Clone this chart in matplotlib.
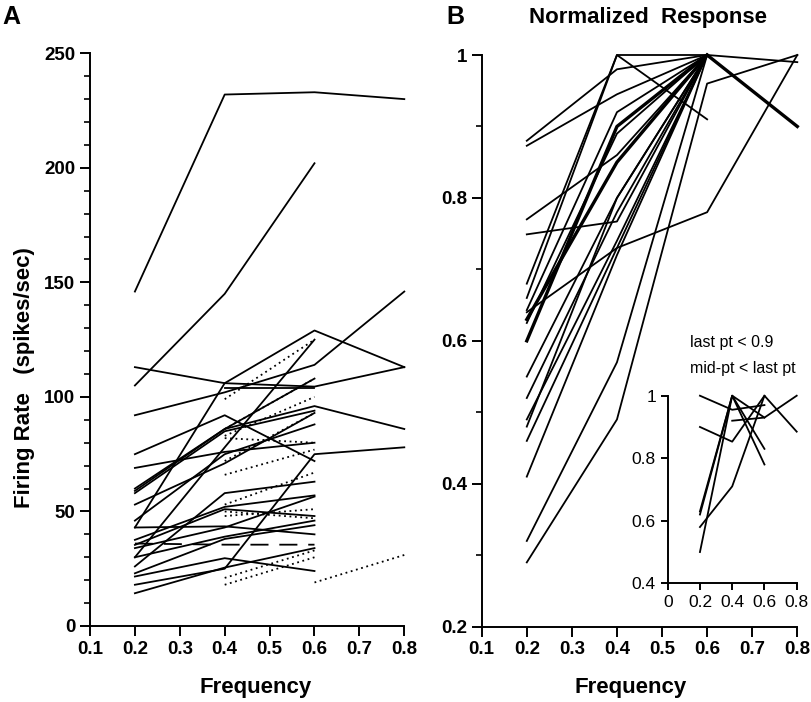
import numpy as np
import matplotlib
matplotlib.use("Agg")
import matplotlib.pyplot as plt
from matplotlib.ticker import MultipleLocator

plt.rcParams["font.family"] = ["Liberation Sans", "DejaVu Sans"]

nan = np.nan
freq = [0.2, 0.4, 0.6, 0.8]

# panel A: firing rate (spikes/sec) at each frequency
rate_solid = [
    [146, 232, 233, 230],
    [105, 145, 202, nan],
    [113, 106, 104.5, 113],
    [43, 106, 129, 113],
    [92, 102, 114, 146],
    [nan, 104, 104, nan],
    [75, 92, 72, nan],
    [69, 76, 80, nan],
    [60, 86, 96, 86],
    [59, 86, 108, nan],
    [58, 85, 94, nan],
    [53, 71, 93, nan],
    [46, 75, 88, nan],
    [30, 78, 125, nan],
    [43, 43.5, 40, nan],
    [26, 58, 63, nan],
    [37.6, 52, 57, nan],
    [35.4, 51, 48, nan],
    [34, 43, 56.5, nan],
    [30, 39, 46, nan],
    [23, 38, 44, nan],
    [21.6, 29.6, 24, nan],
    [18, 25, 75, 78],
    [14.3, 25.5, 34, nan],
]
rate_dotted = [
    [nan, 99, 125, nan],
    [nan, 86, 108, nan],
    [nan, 83, 100, nan],
    [nan, 72, 93, nan],
    [nan, 82, 80, nan],
    [nan, 66, 77, nan],
    [nan, 53, 67, nan],
    [nan, 48, 51, nan],
    [nan, 50, 47, nan],
    [nan, 21, 33, nan],
    [nan, 18, 30, nan],
    [nan, nan, 19, 31],
]
rate_dashed = [36, 35.5, 35.5, nan]

# panel B: normalized response
norm_thin = [
    [0.88, 0.98, 1.0, nan],
    [0.873, 0.945, 1.0, nan],
    [0.77, 0.86, 1.0, nan],
    [0.749, 0.767, 1.0, nan],
    [0.64, 0.73, 0.78, 1.0],
    [0.68, 1.0, 1.0, 0.99],
    [0.66, 1.0, 0.91, nan],
    [0.643, 0.92, 1.0, nan],
    [0.625, 0.89, 1.0, nan],
    [0.55, 0.80, 1.0, nan],
    [0.52, 0.78, 1.0, nan],
    [0.49, 0.74, 1.0, nan],
    [0.48, 0.80, 1.0, nan],
    [0.46, 0.73, 1.0, nan],
    [0.41, 0.72, 1.0, nan],
    [0.32, 0.57, 1.0, nan],
    [0.29, 0.49, 0.96, 1.0],
]
norm_thick = [
    [0.60, 0.90, 1.0, 0.90],
    [0.63, 0.85, 1.0, nan],
]

# inset: last pt < 0.9 or mid-pt < last pt
inset_lines = [
    [0.63, 1.0, 0.83, nan],
    [0.62, 1.0, 0.78, nan],
    [0.50, 1.0, 0.93, nan],
    [0.58, 0.71, 1.0, nan],
    [1.0, 0.955, 0.97, nan],
    [0.90, 0.853, 1.0, 0.885],
    [nan, 0.92, 0.93, 1.0],
]

W, H = 812, 702
fig = plt.figure(figsize=(W / 100, H / 100), dpi=100)


def px_axes(x0, y0, x1, y1):
    return fig.add_axes([x0 / W, 1 - y1 / H, (x1 - x0) / W, (y1 - y0) / H])


def style(ax, size=13.5, weight="bold", major=7, minor=4):
    for s in ["top", "right"]:
        ax.spines[s].set_visible(False)
    for s in ["left", "bottom"]:
        ax.spines[s].set_linewidth(1.4)
    ax.tick_params(which="major", direction="out", length=major, width=1.4,
                   labelsize=size)
    ax.tick_params(which="minor", direction="out", length=minor, width=1.2)
    for lab in ax.get_xticklabels() + ax.get_yticklabels():
        lab.set_fontweight(weight)


# ---- panel A
axA = px_axes(90, 53.3, 404.3, 626)
for r in rate_solid:
    axA.plot(freq, r, color="black", lw=1.3, clip_on=False)
for r in rate_dotted:
    axA.plot(freq, r, color="black", lw=1.3, ls=(0, (1, 2)), clip_on=False)
axA.plot(freq, rate_dashed, color="black", lw=1.3, ls=(0, (10, 6)), clip_on=False)
axA.set_xlim(0.1, 0.8)
axA.set_ylim(0, 250)
axA.set_xticks([0.1, 0.2, 0.3, 0.4, 0.5, 0.6, 0.7, 0.8])
axA.set_xticklabels(["0.1", "0.2", "0.3", "0.4", "0.5", "0.6", "0.7", "0.8"])
axA.set_yticks([0, 50, 100, 150, 200, 250])
axA.set_yticklabels(["0", "50", "100", "150", "200", "250"])
axA.yaxis.set_minor_locator(MultipleLocator(10))
style(axA)

# ---- panel B
axB = px_axes(481.7, 55, 797.3, 626.7)
for r in norm_thin:
    axB.plot(freq, r, color="black", lw=1.3, clip_on=False)
for r in norm_thick:
    axB.plot(freq, r, color="black", lw=2.4, clip_on=False)
axB.set_xlim(0.1, 0.8)
axB.set_ylim(0.2, 1.0)
axB.set_xticks([0.1, 0.2, 0.3, 0.4, 0.5, 0.6, 0.7, 0.8])
axB.set_xticklabels(["0.1", "0.2", "0.3", "0.4", "0.5", "0.6", "0.7", "0.8"])
axB.set_yticks([0.2, 0.4, 0.6, 0.8, 1.0])
axB.set_yticklabels(["0.2", "0.4", "0.6", "0.8", "1"])
axB.yaxis.set_minor_locator(MultipleLocator(0.1))
style(axB)

# ---- inset
axI = px_axes(667.7, 395.7, 796.7, 583.3)
for r in inset_lines:
    axI.plot(freq, r, color="black", lw=1.3, clip_on=False)
axI.set_xlim(0, 0.8)
axI.set_ylim(0.4, 1.0)
axI.set_xticks([0, 0.2, 0.4, 0.6, 0.8])
axI.set_xticklabels(["0", "0.2", "0.4", "0.6", "0.8"])
axI.set_yticks([0.4, 0.6, 0.8, 1.0])
axI.set_yticklabels(["0.4", "0.6", "0.8", "1"])
style(axI, size=12.5, weight="normal", major=5)
axI.patch.set_alpha(0)

# ---- text
fig.text(690 / W, 1 - 343 / H, "last pt < 0.9", fontsize=11.5, va="center")
fig.text(690 / W, 1 - 369 / H, "mid-pt < last pt", fontsize=11.5, va="center")
fig.text(2 / W, 1 - 17 / H, "A", fontsize=18, fontweight="bold", va="center")
fig.text(446 / W, 1 - 17 / H, "B", fontsize=18, fontweight="bold", va="center")
fig.text(648 / W, 1 - 18 / H, "Normalized  Response", fontsize=16,
         fontweight="bold", ha="center", va="center")
fig.text(256 / W, 1 - 688 / H, "Frequency", fontsize=16, fontweight="bold",
         ha="center", va="center")
fig.text(631 / W, 1 - 688 / H, "Frequency", fontsize=16, fontweight="bold",
         ha="center", va="center")
fig.text(25 / W, 1 - 378 / H, "Firing Rate   (spikes/sec)", fontsize=16,
         fontweight="bold", ha="center", va="center", rotation=90)

fig.savefig("out.png", dpi=100)
